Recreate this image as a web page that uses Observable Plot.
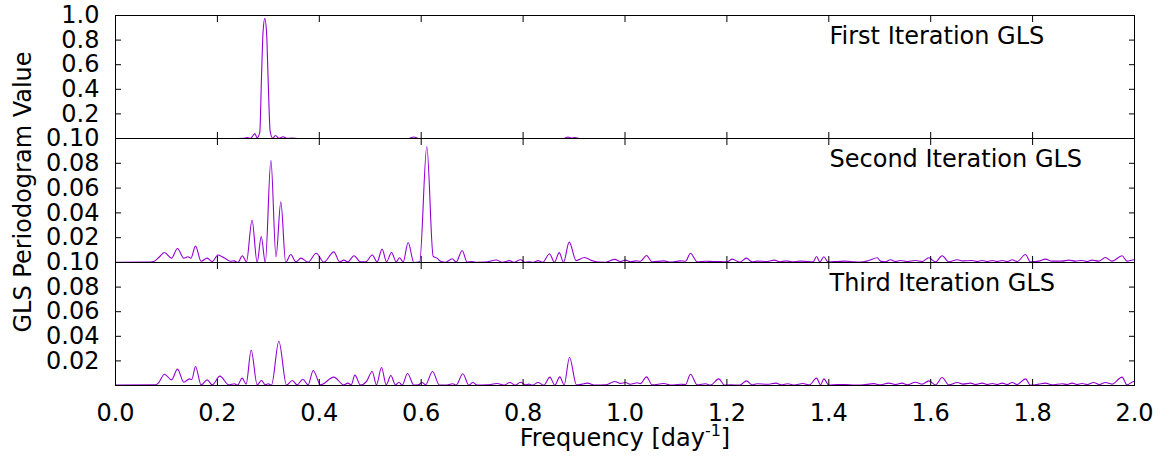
<!DOCTYPE html>
<html><head><meta charset="utf-8">
<script src="https://cdn.jsdelivr.net/npm/d3@7"></script>
<script src="https://cdn.jsdelivr.net/npm/@observablehq/plot@0.6"></script>
<style>
html,body{margin:0;padding:0;background:#fff;}
#chart{position:relative;width:1164px;height:460px;overflow:hidden;}
#chart svg{position:absolute;left:0;top:0;max-width:none;}
</style></head><body><div id="chart"></div>
<script>
// ---- data ----
const freq1 = [0, 0.24, 0.252, 0.2585, 0.265, 0.2735, 0.278, 0.2832, 0.2865, 0.2895, 0.293, 0.2965, 0.2995, 0.3035, 0.3085, 0.314, 0.321, 0.329, 0.336, 0.345, 0.36, 0.575, 0.5856, 0.595, 0.88, 0.888, 0.895, 0.902, 0.91, 2.0];
const power1 = [0, 0, 0.001, 0.008, 0.001, 0.04, 0.005, 0.05, 0.49, 0.86, 0.977, 0.86, 0.49, 0.06, 0.003, 0.024, 0.002, 0.014, 0.001, 0.003, 0, 0, 0.012, 0, 0, 0.012, 0.003, 0.008, 0, 0];

const freq2 = [0, 0.06, 0.075, 0.085, 0.096, 0.110, 0.1216, 0.134, 0.142, 0.148, 0.157, 0.168, 0.180, 0.190, 0.201, 0.213, 0.226, 0.233, 0.240, 0.249, 0.257, 0.268, 0.278, 0.286, 0.294, 0.305, 0.315, 0.3245, 0.334, 0.344, 0.354, 0.364, 0.378, 0.394, 0.409, 0.4285, 0.440, 0.448, 0.456, 0.468, 0.481, 0.491, 0.504, 0.5135, 0.5233, 0.532, 0.5417, 0.551, 0.5574, 0.5646, 0.5744, 0.5856, 0.597, 0.611, 0.6235, 0.631, 0.638, 0.6477, 0.661, 0.6686, 0.6804, 0.6902, 0.6987, 0.7066, 0.726, 0.7478, 0.759, 0.7733, 0.782, 0.795, 0.8034, 0.811, 0.82, 0.8296, 0.8387, 0.8518, 0.8616, 0.8708, 0.8793, 0.8905, 0.9042, 0.9205, 0.9356, 0.9486, 0.9617, 0.98, 0.9912, 1.001, 1.0108, 1.0206, 1.0304, 1.0422, 1.0533, 1.0762, 1.0893, 1.1089, 1.1187, 1.1286, 1.1416, 1.158, 1.1743, 1.1874, 1.2005, 1.2103, 1.2254, 1.2384, 1.2496, 1.2594, 1.279, 1.2934, 1.3039, 1.3163, 1.3281, 1.3445, 1.3608, 1.3694, 1.3759, 1.3825, 1.3903, 1.3982, 1.4165, 1.4329, 1.4492, 1.4623, 1.4787, 1.4951, 1.5014, 1.5113, 1.521, 1.531, 1.5407, 1.554, 1.5702, 1.5833, 1.5964, 1.6095, 1.6225, 1.6356, 1.652, 1.6618, 1.6814, 1.6912, 1.7011, 1.711, 1.7207, 1.7305, 1.7403, 1.75, 1.7599, 1.7697, 1.786, 1.7958, 1.8121, 1.8252, 1.8383, 1.8579, 1.871, 1.884, 1.897, 1.907, 1.9166, 1.9297, 1.9428, 1.9558, 1.9755, 1.9853, 1.9984, 2.0];
const power2 = [0.0002, 0.0003, 0.0008, 0.004, 0.0081, 0.0035, 0.0113, 0.0035, 0.0046, 0.0035, 0.0132, 0.001, 0.0035, 0.0008, 0.006, 0.0038, 0.001, 0.0013, 0.0, 0.0054, 0.0005, 0.0341, 0.0, 0.021, 0.0, 0.0825, 0.0046, 0.049, 0.0, 0.0065, 0.0005, 0.0035, 0.0003, 0.0075, 0.0003, 0.0086, 0.0005, 0.0019, 0.0005, 0.0054, 0.0005, 0.0005, 0.006, 0.0005, 0.0108, 0.0005, 0.0081, 0.0005, 0.0038, 0.0005, 0.0161, 0.0, 0.0005, 0.0935, 0.005, 0.0035, 0.001, 0.0002, 0.003, 0.0003, 0.0097, 0.0003, 0.0008, 0.0002, 0.0003, 0.002, 0.0002, 0.0015, 0.0002, 0.0022, 0.0002, 0.0005, 0.0002, 0.0015, 0.0002, 0.007, 0.0002, 0.008, 0.0002, 0.0164, 0.0015, 0.004, 0.0015, 0.0003, 0.0002, 0.0025, 0.0008, 0.0019, 0.0005, 0.0013, 0.001, 0.0056, 0.0005, 0.0013, 0.0003, 0.0013, 0.001, 0.0075, 0.0005, 0.001, 0.0008, 0.0008, 0.0005, 0.0027, 0.0003, 0.0035, 0.0005, 0.0011, 0.0008, 0.0019, 0.0005, 0.0013, 0.0005, 0.0011, 0.0008, 0.0005, 0.0048, 0.0005, 0.0046, 0.0005, 0.0008, 0.0011, 0.0005, 0.0003, 0.0016, 0.0038, 0.0011, 0.0005, 0.0022, 0.0008, 0.0016, 0.0008, 0.0016, 0.0008, 0.0038, 0.0005, 0.0054, 0.0005, 0.0022, 0.0013, 0.0016, 0.0008, 0.0016, 0.0008, 0.0016, 0.0008, 0.0016, 0.0008, 0.0022, 0.0008, 0.0065, 0.0005, 0.0011, 0.0027, 0.0011, 0.0011, 0.0019, 0.0011, 0.0016, 0.0008, 0.0019, 0.0011, 0.004, 0.0011, 0.0054, 0.0011, 0.0022, 0.002];

const freq3 = [0, 0.0785, 0.085, 0.096, 0.110, 0.1216, 0.134, 0.1452, 0.1497, 0.157, 0.168, 0.180, 0.190, 0.2048, 0.2224, 0.2336, 0.2395, 0.2486, 0.2564, 0.2663, 0.2781, 0.2866, 0.2944, 0.2996, 0.3062, 0.3206, 0.3356, 0.3468, 0.3566, 0.3677, 0.378, 0.388, 0.4024, 0.4285, 0.4482, 0.456, 0.4626, 0.4698, 0.4809, 0.4927, 0.5038, 0.5122, 0.5221, 0.5313, 0.5404, 0.5495, 0.5561, 0.5627, 0.5731, 0.5856, 0.5941, 0.6019, 0.6085, 0.6222, 0.6359, 0.6477, 0.662, 0.6686, 0.6817, 0.6935, 0.7013, 0.7099, 0.7295, 0.7491, 0.7622, 0.774, 0.7851, 0.7949, 0.8047, 0.8113, 0.8178, 0.8296, 0.8407, 0.8525, 0.8623, 0.8721, 0.8806, 0.8911, 0.9048, 0.9159, 0.9258, 0.9421, 0.9617, 0.9801, 0.9912, 1.001, 1.0108, 1.0238, 1.0304, 1.0422, 1.0533, 1.0762, 1.0893, 1.1089, 1.1187, 1.1286, 1.1416, 1.158, 1.1678, 1.1841, 1.1953, 1.207, 1.2254, 1.2384, 1.2496, 1.2594, 1.279, 1.2966, 1.3064, 1.3195, 1.3326, 1.3489, 1.362, 1.3759, 1.3838, 1.3903, 1.4001, 1.4165, 1.4329, 1.4492, 1.4623, 1.4885, 1.5, 1.5178, 1.531, 1.544, 1.554, 1.5702, 1.5833, 1.5964, 1.6095, 1.6225, 1.6356, 1.652, 1.6631, 1.6782, 1.688, 1.7011, 1.711, 1.7207, 1.7305, 1.7403, 1.75, 1.7599, 1.7697, 1.786, 1.7958, 1.8121, 1.8252, 1.8383, 1.8579, 1.8677, 1.8775, 1.8873, 1.897, 1.907, 1.9199, 1.931, 1.9428, 1.9558, 1.9755, 1.9853, 1.9984, 2.0];
const power3 = [0.0003, 0.0005, 0.0024, 0.0092, 0.0046, 0.0133, 0.0027, 0.0054, 0.0049, 0.0154, 0.0005, 0.0046, 0.0005, 0.0076, 0.0005, 0.0014, 0.0003, 0.006, 0.0011, 0.0287, 0.0005, 0.0041, 0.0005, 0.0014, 0.0003, 0.036, 0.0003, 0.0041, 0.0005, 0.0051, 0.0005, 0.0122, 0.0005, 0.0068, 0.0005, 0.0019, 0.0005, 0.0084, 0.0003, 0.0033, 0.0114, 0.0005, 0.0146, 0.0005, 0.0081, 0.0005, 0.0027, 0.0003, 0.0098, 0.0003, 0.0005, 0.0024, 0.0005, 0.0114, 0.0003, 0.0003, 0.0014, 0.0003, 0.0095, 0.0003, 0.0024, 0.0003, 0.0005, 0.0016, 0.0003, 0.0024, 0.0003, 0.0027, 0.0005, 0.0011, 0.0003, 0.0024, 0.0003, 0.0068, 0.0003, 0.007, 0.0005, 0.023, 0.0005, 0.0011, 0.0019, 0.0003, 0.0005, 0.0033, 0.0017, 0.0024, 0.001, 0.0022, 0.0015, 0.007, 0.0005, 0.0016, 0.0003, 0.001, 0.0008, 0.0092, 0.0005, 0.0014, 0.0003, 0.0054, 0.0003, 0.0005, 0.0003, 0.0038, 0.0005, 0.0014, 0.001, 0.0019, 0.0005, 0.0014, 0.0003, 0.0016, 0.0005, 0.006, 0.0005, 0.0054, 0.0003, 0.0008, 0.0008, 0.0003, 0.0003, 0.0015, 0.0005, 0.0019, 0.0008, 0.0019, 0.0005, 0.0027, 0.0011, 0.0038, 0.0005, 0.0065, 0.0005, 0.0024, 0.0011, 0.0019, 0.0008, 0.0019, 0.0008, 0.0016, 0.0008, 0.0019, 0.0008, 0.0024, 0.0008, 0.0054, 0.0003, 0.0011, 0.0019, 0.0005, 0.0014, 0.0008, 0.0019, 0.0008, 0.0016, 0.0008, 0.0024, 0.0008, 0.0024, 0.0011, 0.0068, 0.0005, 0.0033, 0.003];

const xTicks = [0, 0.2, 0.4, 0.6, 0.8, 1.0, 1.2, 1.4, 1.6, 1.8, 2.0];
const yTicksTop = [0.2, 0.4, 0.6, 0.8, 1.0];
const yTicksLow = [0.02, 0.04, 0.06, 0.08, 0.10];
const panelLabels = ["First Iteration GLS", "Second Iteration GLS", "Third Iteration GLS"];
const yLabel = "GLS Periodogram Value";
const xLabel = "Frequency [day";
const xLabelSup = "-1";

// ---- layout ----
const W = 1164, H = 460, LEFT = 115, RIGHT = 30;
const bands = [[15, 138], [138, 262], [262, 385]];
const FONT = "DejaVu Sans";

function panel(i, freq, power, yDomain, yTicks, yFmt) {
  const data = freq.map((f, j) => ({f, p: power[j]}));
  const [top, bottom] = bands[i];
  return Plot.plot({
    width: W, height: H,
    marginLeft: LEFT, marginRight: RIGHT,
    marginTop: top, marginBottom: H - bottom,
    x: {domain: [0, 2]},
    y: {domain: yDomain},
    style: {fontFamily: FONT, fontSize: "24px", color: "black", background: "transparent", overflow: "visible"},
    marks: [
      Plot.line(data, {x: "f", y: "p", stroke: "#9400D3", strokeWidth: 1.1, curve: "monotone-x", clip: true}),
      Plot.frame({stroke: "black", strokeWidth: 1}),
      Plot.axisY({anchor: "left", ticks: yTicks, tickSize: -6, fill: "none", label: null}),
      Plot.axisY({anchor: "right", ticks: yTicks, tickSize: -6, fill: "none", label: null}),
      Plot.axisY({anchor: "left", ticks: yTicks, tickSize: 0, tickPadding: 16, tickFormat: d3.format(yFmt), label: null}),
      Plot.axisX({anchor: "top", ticks: xTicks, tickSize: -6, fill: "none", label: null}),
      Plot.axisX({anchor: "bottom", ticks: xTicks, tickSize: -6, fill: "none", label: null}),
      i === 2 ? Plot.axisX({anchor: "bottom", ticks: xTicks, tickSize: 0, tickPadding: 18, tickFormat: d3.format(".1f"), label: null}) : null,
      Plot.text([panelLabels[i]], {frameAnchor: "top-left", text: d => d, dx: 714, dy: 28, textAnchor: "start", lineAnchor: "bottom"})
    ]
  });
}

const chart = document.getElementById("chart");
const svgs = [
  panel(0, freq1, power1, [0, 1], yTicksTop, ".1f"),
  panel(1, freq2, power2, [0, 0.1], yTicksLow, ".2f"),
  panel(2, freq3, power3, [0, 0.1], yTicksLow, ".2f")
];
svgs.forEach(s => chart.appendChild(s));

// axis titles
const last = d3.select(svgs[2]);
last.append("text")
  .attr("transform", "translate(23,192) rotate(-90)")
  .attr("text-anchor", "middle")
  .attr("dominant-baseline", "central")
  .attr("fill", "black")
  .style("font-family", FONT).style("font-size", "24px")
  .text(yLabel);
const xl = last.append("text")
  .attr("x", 625).attr("y", 446)
  .attr("text-anchor", "middle")
  .attr("fill", "black")
  .style("font-family", FONT).style("font-size", "24px");
xl.append("tspan").text(xLabel);
xl.append("tspan").attr("dy", -10).style("font-size", "16px").text(xLabelSup);
xl.append("tspan").attr("dy", 10).text("]");
</script></body></html>
